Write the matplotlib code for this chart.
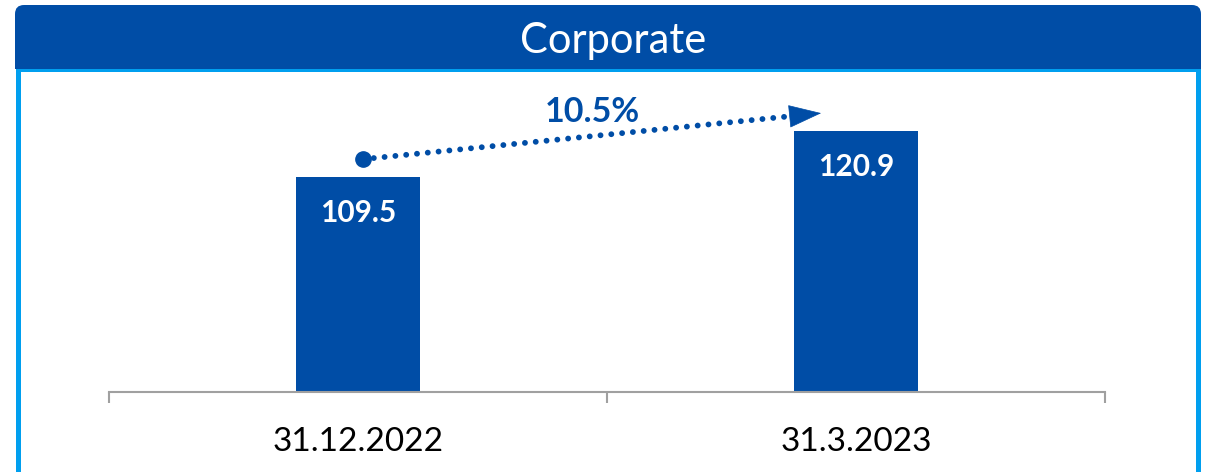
import matplotlib.pyplot as plt
from matplotlib.patches import FancyBboxPatch, Rectangle

# data
categories = ['31.12.2022', '31.3.2023']
values = [109.5, 120.9]
growth_label = '10.5%'
title = 'Corporate'

dark_blue = '#004DA6'
light_blue = '#009FEF'
axis_grey = '#A0A0A0'

plt.rcParams['font.family'] = ['Lato', 'DejaVu Sans']

W, H = 1207, 472
fig = plt.figure(figsize=(W / 100, H / 100), dpi=100)

# header box (rounded top) + light blue frame, in pixel coords
fig.patches.append(FancyBboxPatch((15, H - 69), 1186, 64,
                                  boxstyle='round,pad=0,rounding_size=9',
                                  transform=None, facecolor=dark_blue, edgecolor='none'))
fig.patches.append(Rectangle((15, H - 69), 1186, 14, transform=None,
                             facecolor=dark_blue, edgecolor='none'))
fig.patches.append(Rectangle((16, H - 72), 1185, 3, transform=None,
                             facecolor=light_blue, edgecolor='none'))
fig.patches.append(Rectangle((16, 0), 5, H - 69, transform=None,
                             facecolor=light_blue, edgecolor='none'))
fig.patches.append(Rectangle((1196, 0), 5, H - 69, transform=None,
                             facecolor=light_blue, edgecolor='none'))
fig.text(613 / W, 1 - 41 / H, title, color='white', fontsize=30,
         ha='center', va='center')

ax = fig.add_axes([109 / W, (H - 392) / H, 996 / W, (392 - 74) / H])
x = range(len(categories))
ax.bar(x, values, width=0.247, color=dark_blue)
ax.set_xlim(-0.5, 1.5)
ax.set_ylim(56.2, 135.0)

for i, v in enumerate(values):
    ax.text(i, v - 9, f'{v:.1f}', color='white', fontsize=21.5, fontweight='bold',
            ha='center', va='center')

# growth arrow
start = (0.01, values[0] + 4.4)
end = (0.93, values[1] + 4.4)
base = (end[0] - 0.058, end[1] - (end[1] - start[1]) * 0.058 / (end[0] - start[0]))
ax.plot([start[0], base[0]], [start[1], base[1]], color=dark_blue, lw=4.2,
        linestyle=(0, (0.01, 1.85)), dash_capstyle='round')
ax.plot([start[0]], [start[1]], 'o', color=dark_blue, markersize=11)
ax.annotate('', xy=end, xytext=base,
            arrowprops=dict(arrowstyle='-|>,head_length=1.0,head_width=0.35',
                            mutation_scale=22, color=dark_blue, lw=0.5,
                            shrinkA=0, shrinkB=0))
ax.text(0.47, 125.6, growth_label, color=dark_blue, fontsize=24.5, fontweight='bold',
        ha='center', va='center')

for s in ['top', 'right', 'left']:
    ax.spines[s].set_visible(False)
ax.spines['bottom'].set_color(axis_grey)
ax.spines['bottom'].set_linewidth(1.5)
ax.set_yticks([])
ax.set_xticks(list(x))
ax.set_xticklabels(categories, fontsize=24)
ax.tick_params(axis='x', which='major', length=0, pad=25)
ax.set_xticks([-0.5, 0.5, 1.5], minor=True)
ax.tick_params(axis='x', which='minor', length=8, width=1.5, color=axis_grey)

fig.savefig('out.png', dpi=100)
